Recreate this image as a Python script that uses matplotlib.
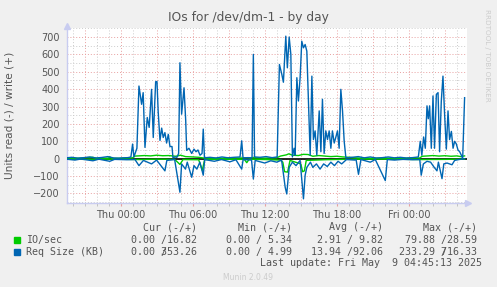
import numpy as np
import matplotlib
matplotlib.use('Agg')
import matplotlib.pyplot as plt

# hours relative to Thu 00:00
blue_w_t = [-4.5, -4.06, -3.56, -3.06, -2.56, -2.06, -1.56, -1.06, -0.56, -0.14, 0.19, 0.61, 0.86,
            1.00, 1.11, 1.36, 1.53, 1.75, 1.88, 2.03, 2.22, 2.38, 2.58, 2.72, 2.92, 3.03, 3.13, 3.28,
            3.42, 3.55, 3.69, 3.83, 3.97, 4.11, 4.28, 4.36, 4.53, 4.69, 4.83, 4.94, 5.08, 5.28, 5.42,
            5.50, 5.69, 5.92, 6.11, 6.28, 6.44, 6.61, 6.78, 6.88, 6.98, 7.44, 7.94, 8.44, 8.94, 9.44,
            9.94, 10.08, 10.19, 10.61, 10.94, 11.05, 11.15, 11.61, 12.11, 12.61, 13.03, 13.22, 13.42,
            13.55, 13.75, 13.88, 14.03, 14.17, 14.30, 14.44, 14.53, 14.67, 14.80, 14.94, 15.08, 15.22,
            15.36, 15.50, 15.63, 15.78, 15.92, 16.05, 16.19, 16.33, 16.53, 16.67, 16.80, 16.94, 17.08,
            17.22, 17.36, 17.50, 17.63, 17.78, 17.92, 18.05, 18.19, 18.33, 18.47, 18.61, 18.75, 19.28,
            19.78, 20.28, 20.78, 21.28, 21.78, 22.28, 22.78, 23.28, 23.78, 24.28, 24.78, 24.94, 25.07,
            25.22, 25.36, 25.50, 25.61, 25.72, 25.86, 26.00, 26.13, 26.28, 26.42, 26.55, 26.69, 26.83,
            26.97, 27.11, 27.25, 27.38, 27.53, 27.67, 27.80, 27.94, 28.08, 28.22, 28.36, 28.47, 28.63]
blue_w = [5, 8, 3, 6, 10, 4, 7, 12, 4, 3, 5, 6, 10,
          84, 10, 60, 418, 313, 380, 65, 237, 180, 399, 122, 443, 444, 270, 105,
          176, 122, 150, 90, 140, 70, 70, 5, 10, 8, 30, 552, 256, 408, 220,
          48, 60, 30, 55, 40, 50, 20, 30, 170, 5, 8, 4, 10, 5, 8,
          10, 103, 5, 6, 5, 600, 10, 8, 12, 6, 10, 542, 485,
          440, 705, 523, 700, 600, 10, 60, 20, 466, 332, 466, 676, 638,
          657, 619, 332, 20, 475, 110, 160, 20, 275, 40, 342, 30, 160,
          110, 160, 60, 160, 90, 125, 160, 60, 399, 275, 100, 5, 8,
          12, 5, 10, 4, 6, 10, 5, 8, 4, 6, 10, 100, 20,
          125, 60, 304, 230, 304, 60, 361, 60, 370, 380, 40, 330, 475,
          250, 55, 275, 110, 157, 60, 100, 85, 50, 40, 20, 0, 351]

blue_r_t = [-4.5, -3.8, -3.3, -2.3, -1.8, -0.9, -0.5, 0.5, 1.2, 1.53, 1.9, 2.58, 3.0, 3.69, 3.85,
            4.5, 4.94, 5.08, 5.4, 5.55, 5.92, 6.11, 6.35, 6.6, 6.88, 7.0, 7.8, 8.4, 9.1, 9.6, 10.08,
            10.2, 10.9, 11.05, 11.2, 12.0, 12.5, 13.0, 13.4, 13.7, 13.83, 14.03, 14.3, 14.6, 14.94,
            15.08, 15.22, 15.36, 15.5, 15.8, 16.0, 16.3, 16.6, 16.9, 17.2, 17.5, 17.8, 18.1, 18.4,
            18.8, 19.5, 19.6, 19.8, 20.0, 20.78, 21.2, 22.03, 22.2, 22.8, 23.5, 24.3, 24.9, 25.02,
            25.2, 25.5, 25.8, 26.05, 26.33, 26.45, 26.75, 26.9, 27.17, 27.58, 27.8, 28.15, 28.63]
blue_r = [-3, -8, -2, -12, -3, -15, -4, -6, -5, -40, -10, -30, -8, -70, -10,
          -5, -193, -30, -60, -20, -107, -40, -60, -20, -95, -5, -15, -5, -18, -6, -60,
          -5, -8, -117, -10, -25, -12, -20, -8, -165, -203, -50, -20, -40, -10,
          -120, -231, -95, -50, -20, -50, -30, -60, -30, -45, -20, -40, -15, -30,
          -5, -8, -5, -90, -5, -20, -5, -126, -5, -8, -4, -6, -5, -95,
          -30, -15, -20, -45, -70, -20, -115, -30, -25, -35, -10, -5, 0]

green_w_t = [-4.5, -3.5, -2.3, -2.0, -1.0, -0.9, -0.7, 0.5, 1.0, 1.2, 2.0, 2.5, 3.0, 3.5, 4.0,
             4.6, 5.0, 5.4, 6.0, 6.5, 7.0, 8.0, 9.0, 10.0, 11.0, 12.0, 13.0, 13.3, 13.8, 14.0,
             14.3, 14.8, 15.2, 15.6, 16.0, 16.5, 17.0, 17.5, 18.0, 18.5, 19.0, 19.5, 20.0, 21.0,
             22.0, 23.0, 24.0, 24.9, 25.1, 25.6, 26.0, 26.5, 27.0, 27.5, 28.0, 28.3, 28.63]
green_w = [2, 3, 8, 2, 3, 10, 2, 3, 5, 15, 18, 16, 20, 17, 18,
           14, 20, 12, 10, 8, 3, 2, 3, 4, 6, 3, 5, 15, 22, 28,
           20, 18, 25, 24, 14, 18, 15, 12, 14, 10, 8, 5, 3, 2,
           3, 2, 3, 4, 14, 16, 18, 15, 17, 14, 16, 12, 16]

green_r_t = [-4.5, -3.0, -1.5, 0.0, 1.5, 3.0, 4.5, 4.94, 5.2, 6.5, 6.8, 7.0, 8.5, 10.3, 10.5,
             10.7, 12.0, 13.3, 13.5, 13.65, 13.9, 14.1, 15.0, 15.15, 15.3, 15.45, 17.0, 19.0,
             21.0, 23.0, 25.0, 27.0, 28.63]
green_r = [-2, -4, -2, -3, -5, -3, -4, -33, -5, -6, -67, -5, -3, -4, -23,
           -3, -5, -8, -20, -75, -77, -10, -30, -75, -70, -10, -6, -3,
           -2, -3, -5, -4, -2]

x_ticks = [0, 6, 12, 18, 24]
x_labels = ['Thu 00:00', 'Thu 06:00', 'Thu 12:00', 'Thu 18:00', 'Fri 00:00']
y_ticks = list(range(-200, 800, 100))

legend_rows = [
    ('IO/sec', '#00cc00', ['0.00 /16.82', '0.00 / 5.34', '2.91 / 9.82', '79.88 /28.59']),
    ('Req Size (KB)', '#0066b3', ['0.00 353.26', '0.00 / 4.99', '13.94 /92.06', '233.29 716.33']),
]
legend_heads = ['Cur (-/+)', 'Min (-/+)', 'Avg (-/+)', 'Max (-/+)']

W, H = 497, 287
bg = '#f0f0f0'
txt = '#555555'
fig = plt.figure(figsize=(W / 100, H / 100), dpi=100, facecolor=bg)
ax = fig.add_axes([66.5 / W, 1 - 203 / H, 400.5 / W, 175 / H])
ax.set_facecolor('white')
x0, x1 = -4.5, 28.83
y0, y1 = -255, 752
ax.set_xlim(x0, x1)
ax.set_ylim(y0, y1)

# grid, minor grey and major red, dotted like rrdtool
for h in range(-4, 29):
    c = '#e8a0a0' if h % 3 == 0 else '#cccccc'
    ax.axvline(h, color=c, lw=0.7, ls=(0, (1, 2)), zorder=1)
for v in range(-250, 751, 50):
    c = '#e8a0a0' if v % 100 == 0 else '#cccccc'
    ax.axhline(v, color=c, lw=0.7, ls=(0, (1, 2)), zorder=1)

ax.axhline(0, color='black', lw=1.2, zorder=2)
ax.plot(green_w_t, green_w, color='#00cc00', lw=1.0, zorder=3)
ax.plot(green_r_t, green_r, color='#00cc00', lw=1.0, zorder=3)
ax.plot(blue_w_t, blue_w, color='#0066b3', lw=1.0, zorder=4)
ax.plot(blue_r_t, blue_r, color='#0066b3', lw=1.0, zorder=4)

for s in ['top', 'right']:
    ax.spines[s].set_visible(False)
for s in ['left', 'bottom']:
    ax.spines[s].set_color('#c8ccf0')
    ax.spines[s].set_linewidth(1.0)
# axis arrows
ax.plot([x1 + 0.12], [y0], marker='>', ms=5, color='#c8ccf0', clip_on=False, zorder=5)
ax.plot([x0], [y1 + 12], marker='^', ms=5, color='#c8ccf0', clip_on=False, zorder=5)

ax.set_xticks(x_ticks)
ax.set_xticklabels(x_labels)
ax.set_xticks(range(-4, 29), minor=True)
ax.set_yticks(y_ticks)
ax.tick_params(axis='x', which='major', length=2, color='#e8a0a0', pad=3, labelsize=7, labelcolor=txt)
ax.tick_params(axis='x', which='minor', length=2, color='#bbbbbb')
ax.tick_params(axis='y', length=0, pad=5, labelsize=7, labelcolor=txt)

fig.text(248, H - 18, 'IOs for /dev/dm-1 - by day', transform=None, ha='center', va='center',
         fontsize=8.8, color=txt)
fig.text(10, H - 115, 'Units read (-) / write (+)', transform=None, rotation=90, ha='center',
         va='center', fontsize=7.6, color=txt)
fig.text(487, H - 55, 'RRDTOOL / TOBI OETIKER', transform=None, rotation=270, ha='center',
         va='center', fontsize=5.2, color='#cccccc')

mono = 'DejaVu Sans Mono'
fs = 7.2
cw = 6.03  # px per char
col_right = [197, 291.7, 383.3, 476.7]
for head, r in zip(legend_heads, col_right):
    fig.text(r, H - 227, head, transform=None, ha='right', va='center', family=mono, fontsize=fs, color=txt)
for i, (name, col, vals) in enumerate(legend_rows):
    yy = H - (239.7 + 12 * i)
    fig.patches.append(plt.Rectangle((14, yy - 3), 6, 6, transform=None, color=col))
    fig.text(26.5, yy, name, transform=None, ha='left', va='center', family=mono, fontsize=fs, color=txt)
    for v, r in zip(vals, col_right):
        fig.text(r, yy, v, transform=None, ha='right', va='center', family=mono, fontsize=fs, color=txt)
        if '/' not in v:
            # rrdtool overflow: slash printed over the first digit of the write value
            k = v.index(' ') + 1
            xs = r - cw * (len(v) - k - 0.5)
            fig.text(xs, yy, '/', transform=None, ha='center', va='center', family=mono, fontsize=fs, color=txt)
fig.text(482, H - 263.5, 'Last update: Fri May  9 04:45:13 2025', transform=None, ha='right',
         va='center', family=mono, fontsize=fs, color=txt)
fig.text(248, H - 277, 'Munin 2.0.49', transform=None, ha='center', va='center', fontsize=5.5,
         color='#cccccc')

fig.savefig('out.png', dpi=100, facecolor=bg)
